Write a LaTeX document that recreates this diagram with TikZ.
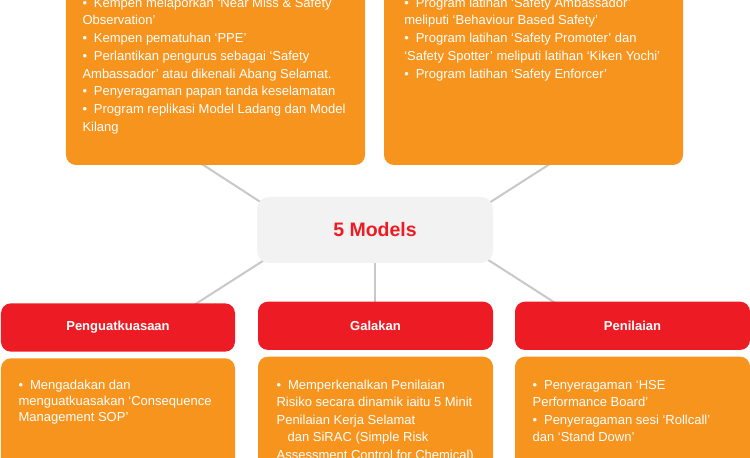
\documentclass[tikz,border=0pt]{standalone}
\usepackage{fontspec}
\setmainfont{Liberation Sans}
\definecolor{orng}{HTML}{F7941E}
\definecolor{rd}{HTML}{ED1C24}
\definecolor{cgray}{HTML}{F2F2F2}
\definecolor{lgray}{HTML}{C8C8C8}
\newcommand\blt{\makebox[11.5bp][l]{•}}
\newcommand\txtlines[2]{\vtop{\baselineskip=#1\lineskiplimit=-50bp\lineskip=0pt #2}}
\begin{document}
\begin{tikzpicture}[x=1bp,y=-1bp,
  obox/.style={fill=orng, rounded corners=10bp, draw=none, inner sep=0, outer sep=0},
  rbox/.style={fill=rd, rounded corners=10bp, draw=none, inner sep=0, outer sep=0, text=white, font=\fontsize{13bp}{15bp}\selectfont\bfseries},
  cbox/.style={fill=cgray, rounded corners=12bp, draw=none, inner sep=0, outer sep=0, text=rd, font=\fontsize{19.5bp}{22bp}\selectfont\bfseries},
  body/.style={text=white, font=\fontsize{13bp}{17bp}\selectfont, inner sep=0, outer sep=0, anchor=base west},
  conn/.style={draw=lgray, line width=2bp, shorten <=-4bp, shorten >=-4bp}]
\useasboundingbox (0,0) rectangle (750,458);
\clip (0,0) rectangle (750,458);

% connector end points
\coordinate (a1) at (203.3,165);
\coordinate (a2) at (260,201.7);
\coordinate (b1) at (548.3,165);
\coordinate (b2) at (490,202.3);
\coordinate (d1) at (261.7,261.7);
\coordinate (d2) at (196.7,303.3);
\coordinate (e1) at (375,263);
\coordinate (e2) at (375,302);
\coordinate (f1) at (488.3,260);
\coordinate (f2) at (553.3,301.7);
\draw[conn] (a1) -- (a2);
\draw[conn] (b1) -- (b2);
\draw[conn] (d1) -- (d2);
\draw[conn] (e1) -- (e2);
\draw[conn] (f1) -- (f2);

% boxes
\node[obox, minimum width=299bp, minimum height=185bp] (tl) at (215.5,72.5) {};
\node[obox, minimum width=299bp, minimum height=185bp] (tr) at (533.5,72.5) {};
\node[cbox, minimum width=236bp, minimum height=66bp] (ctr) at (375,230) {5 Models};

\node[rbox, minimum width=234bp, minimum height=48.4bp] (h1) at (118,327.5) {Penguatkuasaan};
\node[rbox, minimum width=235bp, minimum height=48.3bp] (h2) at (375.5,325.8) {Galakan};
\node[rbox, minimum width=235bp, minimum height=48.3bp] (h3) at (632.5,325.8) {Penilaian};

\node[obox, minimum width=234bp, minimum height=122bp] (o1) at (118,419.3) {};
\node[obox, minimum width=235bp, minimum height=124bp] (o2) at (375.5,418.7) {};
\node[obox, minimum width=235bp, minimum height=124bp] (o3) at (632.5,418.7) {};

% texts
\node[body] (tltext) at (82.5,7.3) {\txtlines{17.7bp}{%
\hbox{\blt Kempen melaporkan ‘Near Miss \& Safety}
\hbox{Observation’}
\hbox{\blt Kempen pematuhan ‘PPE’}
\hbox{\blt Perlantikan pengurus sebagai ‘Safety}
\hbox{Ambassador’ atau dikenali Abang Selamat.}
\hbox{\blt Penyeragaman papan tanda keselamatan}
\hbox{\blt Program replikasi Model Ladang dan Model}
\hbox{Kilang}}};

\node[body] (trtext) at (404.3,7.3) {\txtlines{17.7bp}{%
\hbox{\blt Program latihan ‘Safety Ambassador’}
\hbox{meliputi ‘Behaviour Based Safety’}
\hbox{\blt Program latihan ‘Safety Promoter’ dan}
\hbox{‘Safety Spotter’ meliputi latihan ‘Kiken Yochi’}
\hbox{\blt Program latihan ‘Safety Enforcer’}}};

\node[body] (o1text) at (18.6,389) {\txtlines{16.3bp}{%
\hbox{\blt Mengadakan dan}
\hbox{menguatkuasakan ‘Consequence}
\hbox{Management SOP’}}};

\node[body] (o2text) at (276.6,389) {\txtlines{17.6bp}{%
\hbox{\blt Memperkenalkan Penilaian}
\hbox{Risiko secara dinamik iaitu 5 Minit}
\hbox{Penilaian Kerja Selamat}
\hbox{\hskip11bp dan SiRAC (Simple Risk}
\hbox{Assessment Control for Chemical)}}};

\node[body] (o3text) at (532.6,389) {\txtlines{17.6bp}{%
\hbox{\blt Penyeragaman ‘HSE}
\hbox{Performance Board’}
\hbox{\blt Penyeragaman sesi ‘Rollcall’}
\hbox{dan ‘Stand Down’}}};
\end{tikzpicture}
\end{document}
